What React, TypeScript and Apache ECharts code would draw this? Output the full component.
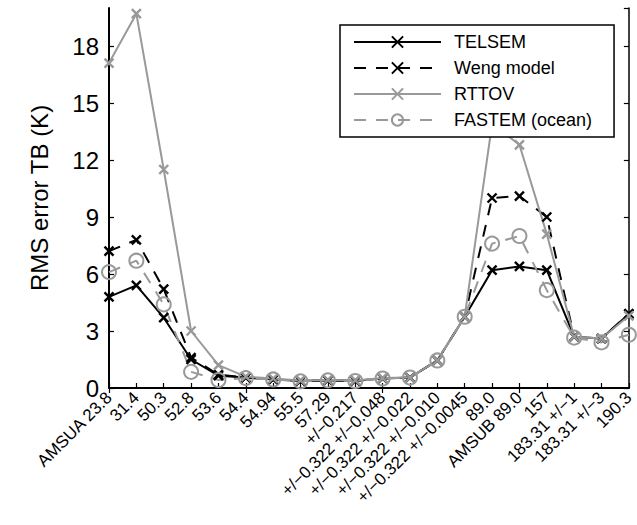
import React, { useEffect, useRef } from "react";
import * as echarts from "echarts";

const categories = [
  "AMSUA 23.8", "31.4", "50.3", "52.8", "53.6", "54.4", "54.94", "55.5", "57.29",
  "+/\u22120.217", "+/\u22120.322 +/\u22120.048", "+/\u22120.322 +/\u22120.022", "+/\u22120.322 +/\u22120.010",
  "+/\u22120.322 +/\u22120.0045", "89.0", "AMSUB 89.0", "157", "183.31 +/\u22121", "183.31 +/\u22123", "190.3",
];

const telsem = [4.8, 5.4, 3.7, 1.5, 0.65, 0.55, 0.45, 0.38, 0.4, 0.38, 0.5, 0.55, 1.45, 3.75, 6.2, 6.4, 6.2, 2.7, 2.6, 3.9];
const weng = [7.2, 7.8, 5.2, 1.6, 0.7, 0.55, 0.45, 0.38, 0.4, 0.38, 0.5, 0.55, 1.45, 3.75, 10.0, 10.1, 9.0, 2.7, 2.6, 3.9];
const rttov = [17.1, 19.7, 11.5, 3.0, 1.2, 0.6, 0.5, 0.4, 0.42, 0.4, 0.52, 0.55, 1.45, 3.75, 13.9, 12.8, 8.1, 2.7, 2.6, 3.8];
const fastem = [6.1, 6.7, 4.4, 0.85, 0.42, 0.52, 0.45, 0.35, 0.4, 0.37, 0.5, 0.55, 1.45, 3.75, 7.6, 8.0, 5.15, 2.65, 2.4, 2.8];

const yTicks = { min: 0, max: 20, interval: 3 };

const FONT = "Liberation Sans, Arial, Helvetica, sans-serif";
const BLACK = "#000000";
const GRAY = "#999999";
const XMARK = "path://M0,0L10,10M10,0L0,10";
const DASH = [12, 10];

function makeSeries(name: string, data: number[], color: string, dashed: boolean, symbol: string, size: number) {
  const isCircle = symbol === "circle";
  return {
    type: "line",
    name,
    data,
    symbol,
    symbolSize: size,
    showAllSymbol: true,
    lineStyle: { color, width: 2, type: dashed ? DASH : "solid" },
    itemStyle: { color: isCircle ? "transparent" : color, borderColor: color, borderWidth: isCircle ? 2 : 2.4 },
    emphasis: { disabled: true },
  };
}

export default function App() {
  const ref = useRef<HTMLDivElement>(null);
  useEffect(() => {
    if (!ref.current) return;
    const chart = echarts.init(ref.current, null, { renderer: "svg" });
    const axisLine = { show: true, lineStyle: { color: BLACK, width: 1.5 } };
    chart.setOption({
      animation: false,
      backgroundColor: "#ffffff",
      textStyle: { fontFamily: FONT },
      grid: { left: 109, right: 5, top: 8, bottom: 137 },
      legend: {
        show: true,
        orient: "vertical",
        left: 340,
        top: 25,
        padding: [8, 22, 8, 13],
        itemWidth: 87,
        itemHeight: 14,
        itemGap: 8,
        backgroundColor: "#ffffff",
        borderColor: BLACK,
        borderWidth: 1.5,
        borderRadius: 0,
        selectedMode: false,
        textStyle: { fontFamily: FONT, fontSize: 18, color: BLACK, lineHeight: 16, padding: [0, 0, 0, 8] },
        data: ["TELSEM", "Weng model", "RTTOV", "FASTEM (ocean)"],
      },
      xAxis: [
        {
          type: "category",
          data: categories,
          boundaryGap: false,
          position: "bottom",
          axisLine: { show: true, lineStyle: { color: BLACK, width: 2 } },
          axisTick: { show: true, inside: true, length: 5, alignWithLabel: true, lineStyle: { color: BLACK, width: 1.2 } },
          axisLabel: { rotate: 45, interval: 0, fontSize: 17, color: BLACK, fontFamily: FONT, margin: 7 },
          splitLine: { show: false },
        },
        {
          type: "category",
          data: categories,
          boundaryGap: false,
          position: "top",
          axisLine,
          axisTick: { show: true, inside: true, length: 5, lineStyle: { color: BLACK, width: 1.2 } },
          axisLabel: { show: false },
          splitLine: { show: false },
        },
      ],
      yAxis: [
        {
          type: "value",
          ...yTicks,
          position: "left",
          name: "RMS error TB (K)",
          nameLocation: "middle",
          nameGap: 58,
          nameTextStyle: { fontSize: 24, color: BLACK, fontFamily: FONT },
          axisLine: { show: true, lineStyle: { color: BLACK, width: 2 } },
          axisTick: { show: true, inside: true, length: 5, lineStyle: { color: BLACK, width: 1.2 } },
          axisLabel: {
            fontSize: 24,
            color: BLACK,
            fontFamily: FONT,
            margin: 10,
            showMaxLabel: false,
            formatter: (v: number) => (v % 3 === 0 ? String(v) : ""),
          },
          splitLine: { show: false },
        },
        {
          type: "value",
          ...yTicks,
          position: "right",
          axisLine,
          axisTick: { show: true, inside: true, length: 5, lineStyle: { color: BLACK, width: 1.2 } },
          axisLabel: { show: false },
          splitLine: { show: false },
        },
      ],
      series: [
        makeSeries("TELSEM", telsem, BLACK, false, XMARK, 9),
        makeSeries("Weng model", weng, BLACK, true, XMARK, 9),
        makeSeries("RTTOV", rttov, GRAY, false, XMARK, 9),
        makeSeries("FASTEM (ocean)", fastem, GRAY, true, "circle", 14),
      ],
    });
    return () => chart.dispose();
  }, []);
  return (
    <div
      ref={ref}
      style={{ position: "fixed", left: 0, top: 0, width: 637, height: 525, background: "#fff" }}
    />
  );
}
